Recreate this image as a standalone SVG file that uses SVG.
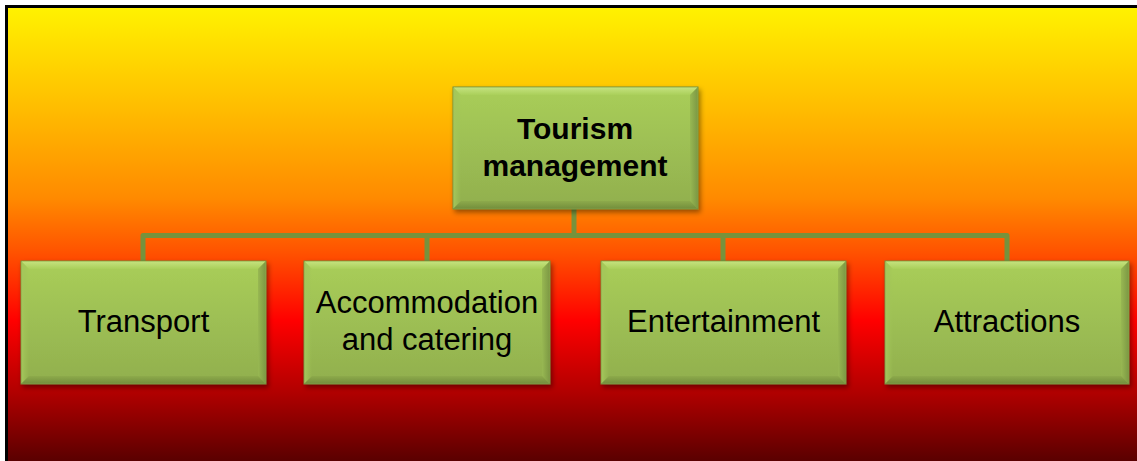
<svg xmlns="http://www.w3.org/2000/svg" width="1137" height="461" viewBox="0 0 1137 461">
<defs>
<linearGradient id="bg" x1="0" y1="8" x2="0" y2="461" gradientUnits="userSpaceOnUse">
<stop offset="0" stop-color="#FFF200"/>
<stop offset="0.2" stop-color="#FFC200"/>
<stop offset="0.42" stop-color="#FF8A00"/>
<stop offset="0.54" stop-color="#FF5200"/>
<stop offset="0.69" stop-color="#FF0000"/>
<stop offset="0.85" stop-color="#B00000"/>
<stop offset="1" stop-color="#5A0000"/>
</linearGradient>
<linearGradient id="face" x1="0" y1="0" x2="0" y2="1">
<stop offset="0" stop-color="#A9CE59"/>
<stop offset="1" stop-color="#91AF4E"/>
</linearGradient>
<linearGradient id="gt" x1="0" y1="0" x2="0" y2="1">
<stop offset="0" stop-color="#C4E27E"/>
<stop offset="1" stop-color="#AACF5A"/>
</linearGradient>
<linearGradient id="gl" x1="0" y1="0" x2="1" y2="0">
<stop offset="0" stop-color="#A4C65C"/>
<stop offset="1" stop-color="#A0C357" stop-opacity="0"/>
</linearGradient>
<linearGradient id="gr" x1="0" y1="0" x2="1" y2="0">
<stop offset="0" stop-color="#98B852"/>
<stop offset="1" stop-color="#7D9944"/>
</linearGradient>
<linearGradient id="gb" x1="0" y1="0" x2="0" y2="1">
<stop offset="0" stop-color="#8DAA4B"/>
<stop offset="1" stop-color="#748F3D"/>
</linearGradient>
<filter id="sh" x="-10%" y="-10%" width="120%" height="130%">
<feDropShadow dx="2" dy="3" stdDeviation="2.5" flood-color="#000" flood-opacity="0.4"/>
</filter>
</defs>
<style>
.face{fill:url(#face);stroke:#718D3E;stroke-width:1}
.bt{fill:url(#gt)}
.bl{fill:url(#gl)}
.br{fill:url(#gr)}
.bb{fill:url(#gb)}
.lbl{font-family:"Liberation Sans",Arial,sans-serif;font-size:31px;fill:#000;text-anchor:middle}
.bold{font-weight:bold;font-size:30px}
.conn{fill:none;stroke:#76923C;stroke-width:5;stroke-linejoin:round;stroke-linecap:butt}
</style>
<rect x="0" y="0" width="1137" height="461" fill="#FFFFFF"/>
<rect x="6" y="6" width="1131" height="455" fill="url(#bg)"/>
<path d="M6.5,461 V6.5 H1137" fill="none" stroke="#000" stroke-width="3"/>
<g id="connectors">
<path class="conn" d="M574,208 V235.5"/>
<path class="conn" d="M143,262 V235.5 H1007 V262"/>
<path class="conn" d="M427,235.5 V262"/>
<path class="conn" d="M723,235.5 V262"/>
</g>
<g id="n-tourism">
<rect class="face" x="453" y="87" width="245" height="122" filter="url(#sh)"/>
<polygon class="bt" points="453.5,87.5 697.5,87.5 689.5,95 461,95"/>
<polygon class="bl" points="453.5,87.5 461,95 461,201 453.5,208.5"/>
<polygon class="br" points="697.5,87.5 697.5,208.5 690,201 690,95"/>
<polygon class="bb" points="453.5,208.5 461,201 690,201 697.5,208.5"/>
<text class="lbl bold" x="575" y="139">Tourism</text>
<text class="lbl bold" x="575" y="176">management</text>
</g>
<g id="n-transport">
<rect class="face" x="21" y="261" width="245" height="123" filter="url(#sh)"/>
<polygon class="bt" points="21.5,261.5 265.5,261.5 258,269 29,269"/>
<polygon class="bl" points="21.5,261.5 29,269 29,376 21.5,383.5"/>
<polygon class="br" points="265.5,261.5 265.5,383.5 258,376 258,269"/>
<polygon class="bb" points="21.5,383.5 29,376 258,376 265.5,383.5"/>
<text class="lbl" x="143.5" y="332">Transport</text>
</g>
<g id="n-accommodation">
<rect class="face" x="304" y="261" width="246" height="123" filter="url(#sh)"/>
<polygon class="bt" points="304.5,261.5 549.5,261.5 542,269 312,269"/>
<polygon class="bl" points="304.5,261.5 312,269 312,376 304.5,383.5"/>
<polygon class="br" points="549.5,261.5 549.5,383.5 542,376 542,269"/>
<polygon class="bb" points="304.5,383.5 312,376 542,376 549.5,383.5"/>
<text class="lbl" x="427" y="313">Accommodation</text>
<text class="lbl" x="427" y="350">and catering</text>
</g>
<g id="n-entertainment">
<rect class="face" x="601" y="261" width="245" height="123" filter="url(#sh)"/>
<polygon class="bt" points="601.5,261.5 845.5,261.5 838,269 609,269"/>
<polygon class="bl" points="601.5,261.5 609,269 609,376 601.5,383.5"/>
<polygon class="br" points="845.5,261.5 845.5,383.5 838,376 838,269"/>
<polygon class="bb" points="601.5,383.5 609,376 838,376 845.5,383.5"/>
<text class="lbl" x="723.5" y="332">Entertainment</text>
</g>
<g id="n-attractions">
<rect class="face" x="885" y="261" width="244" height="123" filter="url(#sh)"/>
<polygon class="bt" points="885.5,261.5 1128.5,261.5 1121,269 893,269"/>
<polygon class="bl" points="885.5,261.5 893,269 893,376 885.5,383.5"/>
<polygon class="br" points="1128.5,261.5 1128.5,383.5 1121,376 1121,269"/>
<polygon class="bb" points="885.5,383.5 893,376 1121,376 1128.5,383.5"/>
<text class="lbl" x="1007" y="332">Attractions</text>
</g>
</svg>
